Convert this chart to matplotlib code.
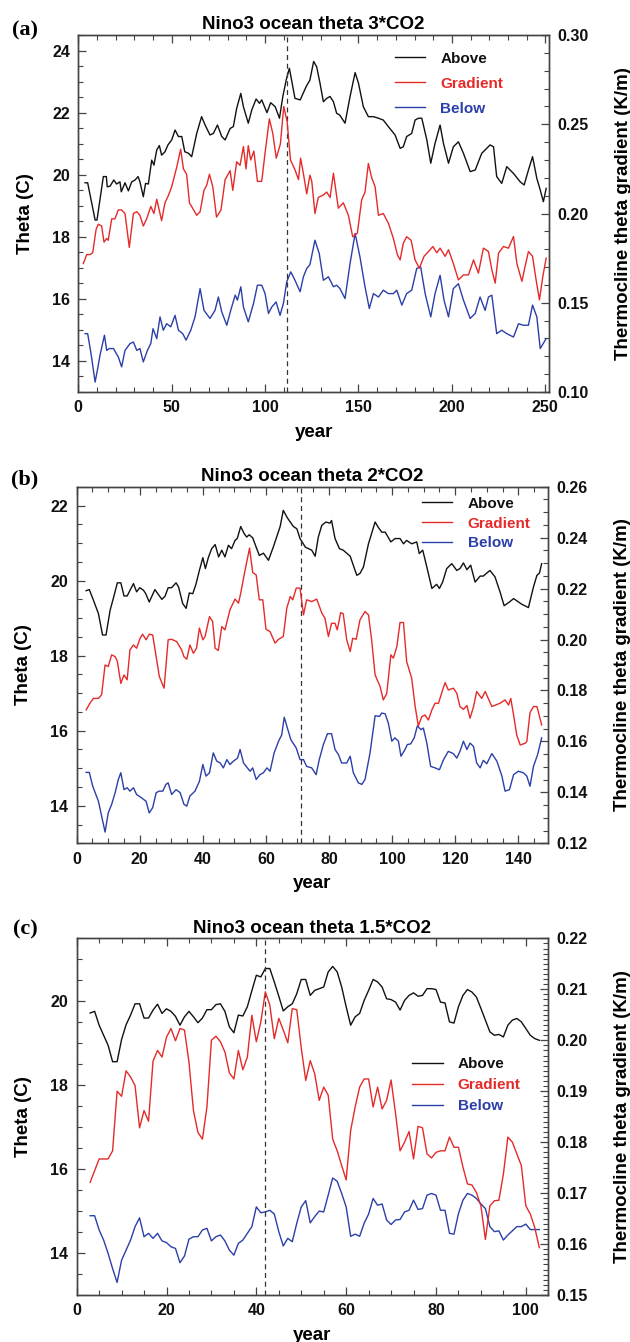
import matplotlib
matplotlib.use("Agg")
import matplotlib.pyplot as plt
from matplotlib.ticker import MultipleLocator

plt.rcParams["font.family"] = ["Liberation Sans", "DejaVu Sans"]
plt.rcParams["font.weight"] = "bold"
plt.rcParams["axes.labelweight"] = "bold"
plt.rcParams["axes.titleweight"] = "bold"

BLACK = "#111111"
RED = "#e52a2a"
BLUE = "#2b3fa8"

# ---------------------------------------------------------------------------
#  (a) 3*CO2
# ---------------------------------------------------------------------------
a_above_yr = [3.6, 5, 9, 10, 13.4, 15, 15.5, 17, 19, 20.5, 22.3, 23, 25, 26.8, 28.6,
              30.4, 32, 33, 34.8, 36, 37.5, 39.3, 40.5, 42, 43.4, 44.6, 46.4, 48, 50,
              51.8, 53.6, 55.4, 57, 59, 60.7, 63.4, 66, 67.9, 70.5, 72.3, 74.5, 76.8,
              78.6, 81.3, 83, 84.8, 87, 88.4, 91, 92.9, 95.2, 97, 98.2, 101, 103, 105.4,
              107.7, 109.5, 111.3, 113, 116, 118.8, 122, 124, 126, 127.6, 129.4, 131.2,
              133, 134.8, 136.6, 138.3, 140, 142.8, 145.5, 148.2, 150, 152.6, 155.3,
              158, 160.7, 163.3, 166, 169.6, 172.3, 174, 175.8, 178.5, 180.3, 182.1,
              183.9, 186.6, 188.7, 191, 193.7, 195.5, 198.2, 200.8, 203.5, 206.2,
              209.8, 212.5, 216, 220.5, 222.3, 224, 226.7, 229.4, 233, 236.6, 238.7,
              241, 243.2, 245.5, 247.3, 249, 250.5]
a_above = [19.74, 19.74, 18.54, 18.54, 19.94, 19.94, 19.61, 19.63, 19.83, 19.70, 19.77,
           19.45, 19.74, 19.48, 19.77, 19.83, 19.94, 19.77, 19.29, 19.72, 19.70, 20.47,
           20.31, 20.80, 20.94, 20.63, 20.74, 20.96, 21.12, 21.44, 21.23, 21.23, 20.74,
           20.69, 20.58, 21.33, 21.87, 21.60, 21.28, 21.33, 21.60, 21.23, 21.12, 21.49,
           21.55, 22.14, 22.62, 22.19, 21.66, 22.09, 22.44, 22.30, 22.41, 22.00, 22.32,
           22.19, 21.82, 22.52, 23.05, 23.43, 22.46, 22.41, 22.84, 23.05, 23.65, 23.48,
           22.95, 22.35, 22.46, 22.52, 22.35, 21.98, 21.92, 21.66, 22.52, 23.29, 22.95,
           22.19, 21.87, 21.87, 21.82, 21.76, 21.55, 21.28, 20.85, 20.90, 21.23, 21.33,
           21.76, 21.82, 21.82, 21.12, 20.37, 21.01, 21.60, 21.01, 20.37, 20.90, 21.06,
           20.69, 20.10, 20.15, 20.69, 20.96, 20.90, 19.94, 19.72, 20.26, 20.04, 19.77,
           19.67, 20.15, 20.58, 19.88, 19.51, 19.13, 19.56]

a_grad_yr = [2.7, 4.5, 6.3, 7.7, 9.5, 10.7, 12.5, 13.75, 15.2, 16, 17.9, 19.6, 21.4,
             23.2, 25, 27.3, 29.5, 31.3, 33, 34.8, 36.6, 38.8, 40.5, 42, 44.6, 46.4,
             48.2, 50, 52.7, 54.8, 56.3, 58, 59.5, 61.2, 63.4, 65.2, 67.3, 68.8, 70.2,
             72, 74, 76.4, 78.6, 81.3, 82.7, 84.8, 86.6, 88.4, 89.8, 91, 92.3, 94,
             95.9, 98.2, 100, 102.3, 104.1, 106, 108.2, 110, 111.8, 113.6, 116, 117.9,
             119, 120.5, 122.3, 124, 125, 126.7, 128.5, 131.2, 133, 134.8, 136.6,
             139.2, 141.9, 144.6, 146.9, 149.4, 151.7, 153.5, 155.3, 157.1, 158.9,
             160.7, 163.3, 166, 168.7, 170.8, 172.3, 174, 175.8, 178.2, 180.3, 182.6,
             185.1, 187.5, 189.8, 191.9, 193.7, 196.4, 198.2, 200.8, 203.5, 206.2,
             208.9, 211.6, 214.2, 216.9, 219.6, 221.4, 223.2, 225, 227.6, 230.3, 233,
             234.8, 237.5, 239.2, 241, 243.2, 245.1, 246.9, 248.7, 250.5]
a_grad = [0.172, 0.177, 0.177, 0.178, 0.191, 0.194, 0.193, 0.184, 0.186, 0.185, 0.197,
          0.197, 0.202, 0.202, 0.200, 0.181, 0.200, 0.201, 0.199, 0.193, 0.197, 0.204,
          0.200, 0.208, 0.196, 0.206, 0.210, 0.215, 0.226, 0.236, 0.225, 0.222, 0.206,
          0.203, 0.199, 0.201, 0.213, 0.216, 0.222, 0.215, 0.198, 0.202, 0.219, 0.224,
          0.213, 0.229, 0.227, 0.2375, 0.225, 0.238, 0.230, 0.235, 0.218, 0.218, 0.234,
          0.253, 0.245, 0.231, 0.239, 0.260, 0.2515, 0.230, 0.2245, 0.219, 0.231,
          0.2225, 0.211, 0.2215, 0.218, 0.200, 0.209, 0.2104, 0.212, 0.209, 0.2226,
          0.203, 0.206, 0.199, 0.187, 0.189, 0.2076, 0.212, 0.228, 0.220, 0.215,
          0.199, 0.200, 0.1946, 0.186, 0.177, 0.174, 0.1834, 0.187, 0.185, 0.174,
          0.1694, 0.176, 0.1787, 0.1815, 0.178, 0.1806, 0.176, 0.1797, 0.172, 0.1628,
          0.1656, 0.1656, 0.174, 0.1666, 0.1806, 0.1787, 0.1685, 0.161, 0.1778,
          0.1815, 0.1806, 0.1871, 0.172, 0.162, 0.1703, 0.1787, 0.176, 0.1628,
          0.1516, 0.1647, 0.175]

a_below_yr = [3.6, 5, 6.8, 9, 10.2, 11.6, 14, 15.2, 16.6, 18.8, 21.4, 23.2, 25, 27.7,
              29.5, 31.3, 33, 34.8, 37, 38.8, 40, 42, 43.75, 45.5, 47.3, 49.5, 51.8,
              53.6, 55.9, 57.7, 60.2, 62.5, 65.2, 67.3, 70.5, 73.2, 75, 76.8, 79.5,
              81.6, 84, 85.2, 87, 88.4, 91, 93.8, 95.9, 98.2, 100, 101.8, 103.6, 105.9,
              108, 109.8, 111.6, 113.75, 116, 118.75, 120.5, 122.3, 124, 126.7, 129,
              131.2, 133.9, 136.6, 138.3, 140.1, 142.8, 145.5, 148.2, 150.8, 153.5,
              155.8, 158, 160.7, 163.3, 166, 168.7, 170.5, 173.2, 175.8, 178.5, 181.2,
              183.3, 185.7, 188.7, 191, 193.7, 195.8, 198.2, 200.8, 203.5, 206.2,
              209.8, 212.5, 215.1, 217.8, 219.6, 221.4, 224, 226.7, 229.4, 233, 235.7,
              238.3, 241, 243.2, 245.5, 247.3, 250.5]
a_below = [14.88, 14.88, 14.24, 13.32, 13.70, 14.18, 14.83, 14.34, 14.40, 14.40, 14.13,
           13.81, 14.34, 14.56, 14.61, 14.34, 14.40, 13.97, 14.34, 14.56, 15.04, 14.72,
           15.42, 14.99, 15.20, 15.10, 15.47, 14.99, 14.88, 14.67, 14.99, 15.42, 16.33,
           15.63, 15.37, 15.63, 16.06, 15.58, 15.15, 15.63, 16.12, 15.96, 16.39, 15.74,
           15.26, 15.85, 16.44, 16.44, 16.17, 15.53, 15.74, 15.90, 15.47, 15.85, 16.55,
           16.87, 16.60, 16.23, 16.71, 16.98, 17.10, 17.89, 17.46, 16.60, 16.71, 16.39,
           16.44, 16.33, 16.01, 17.14, 18.11, 17.35, 16.39, 15.69, 16.17, 16.06, 16.28,
           16.17, 16.17, 16.28, 15.80, 16.17, 16.28, 16.98, 17.03, 16.17, 15.42, 16.17,
           16.76, 15.96, 15.42, 16.33, 16.49, 15.96, 15.37, 15.53, 16.06, 15.63, 16.06,
           16.12, 14.88, 14.99, 14.88, 14.77, 15.20, 15.15, 15.15, 15.80, 15.42, 14.40,
           14.72]

# ---------------------------------------------------------------------------
#  (b) 2*CO2
# ---------------------------------------------------------------------------
b_above_yr = [3, 4, 5.3, 6.9, 8.2, 9.3, 10.6, 11.6, 12.9, 14, 15, 16, 18, 19, 20, 21.2,
              21.9, 23, 24.8, 27, 28, 29, 30.1, 31.5, 32.3, 33.6, 34.7, 35.7, 36.8,
              37.8, 38.9, 40, 40.8, 41.8, 42.8, 43.9, 45, 46, 47, 48.1, 49.1, 50.2,
              50.9, 52, 53.1, 53.9, 54.7, 55.8, 56.9, 57.9, 59.2, 60.8, 62.4, 64.5,
              65.5, 66.8, 68.7, 69.8, 70.8, 72.5, 74.5, 75.6, 76.6, 77.7, 79, 80.3,
              80.8, 81.9, 83.3, 84.5, 86.7, 88.8, 89.8, 90.9, 92.5, 94.6, 95.6, 96.7,
              97.8, 99.6, 100.9, 102.5, 103.6, 104.6, 106.2, 107.8, 108.6, 109.7, 111,
              112.6, 114.1, 115, 116, 117.3, 118.9, 120.5, 121.5, 122.6, 123.7, 124.9,
              126.3, 127.9, 128.9, 131, 132.6, 134.2, 135.5, 137.2, 138.5, 141.1,
              143.2, 144.8, 145.9, 146.7, 147.4]
b_above = [19.73, 19.76, 19.48, 19.12, 18.55, 18.55, 19.21, 19.52, 19.94, 19.94, 19.59,
           19.59, 19.92, 19.70, 19.81, 19.74, 19.65, 19.43, 19.76, 19.50, 19.58, 19.81,
           19.81, 19.94, 19.83, 19.39, 19.26, 19.67, 19.65, 19.90, 20.27, 20.61, 20.32,
           20.63, 20.85, 20.96, 20.63, 20.81, 20.63, 20.94, 20.85, 21.07, 21.12, 21.44,
           21.25, 21.16, 21.22, 21.14, 20.89, 20.67, 20.73, 20.54, 20.91, 21.44, 21.87,
           21.67, 21.44, 21.38, 21.12, 20.89, 20.81, 20.65, 21.16, 21.47, 21.56, 21.53,
           21.60, 21.12, 20.85, 20.81, 20.65, 20.14, 20.19, 20.36, 20.98, 21.56, 21.42,
           21.29, 21.29, 21.03, 21.12, 21.12, 20.98, 21.07, 20.98, 21.03, 20.72, 20.81,
           20.36, 19.79, 19.90, 19.79, 19.96, 20.32, 20.45, 20.27, 20.32, 20.47, 20.29,
           20.41, 19.96, 20.12, 20.12, 20.27, 20.10, 19.70, 19.33, 19.43, 19.52, 19.37,
           19.28, 19.83, 20.14, 20.20, 20.45]

b_grad_yr = [3, 4.2, 5.3, 6.9, 7.9, 9, 10, 11.1, 12.2, 12.9, 14, 15, 16, 16.9, 18, 19,
             20.1, 20.9, 22, 23, 24.1, 25.2, 26.2, 27.7, 29, 30.1, 31.7, 33.3, 34, 34.9,
             35.9, 37, 38, 38.9, 40, 40.7, 42.1, 43.1, 43.9, 44.9, 46, 47, 48.6, 50.2,
             51.3, 52, 53.2, 54.8, 55.8, 56.9, 57.9, 59, 60, 61.3, 62.9, 64, 65.5, 66.6,
             67.7, 68.5, 69.6, 70.8, 71.9, 72.9, 74.5, 76.1, 77.7, 78.7, 79.8, 80.8,
             81.9, 82.6, 83.7, 84.5, 85.6, 86.7, 87.5, 88.6, 89.8, 91.4, 92.5, 93.5,
             94.6, 96.2, 97.2, 98.3, 99.6, 100.4, 101.5, 102.5, 103.6, 104.6, 106.2,
             107.3, 108.3, 109.4, 110.4, 111.5, 112.6, 113.6, 114.7, 116, 116.8, 117.8,
             119.4, 120.5, 121.5, 122.6, 123.7, 124.7, 125.8, 126.8, 128.4, 129.5,
             131.6, 134.2, 135.8, 136.9, 137.6, 138.5, 139.5, 140.6, 142.2, 142.7,
             143.7, 144.8, 145.9, 147.4]
b_grad = [0.1724, 0.1750, 0.1769, 0.1769, 0.1783, 0.1900, 0.1894, 0.1940, 0.1933,
          0.1914, 0.1828, 0.1861, 0.1842, 0.1960, 0.1979, 0.1966, 0.2005, 0.2021,
          0.1999, 0.2021, 0.2018, 0.1933, 0.1855, 0.1809, 0.1999, 0.2001, 0.1992,
          0.1959, 0.1933, 0.1923, 0.1979, 0.1946, 0.1966, 0.2045, 0.1999, 0.2012,
          0.2090, 0.2071, 0.1966, 0.1957, 0.2051, 0.2038, 0.2117, 0.2159, 0.2143,
          0.2182, 0.2261, 0.2359, 0.2263, 0.2254, 0.2156, 0.2156, 0.2041, 0.2031,
          0.1986, 0.2001, 0.2012, 0.2123, 0.2169, 0.2156, 0.2202, 0.2202, 0.2097,
          0.2156, 0.2149, 0.2159, 0.2104, 0.2084, 0.2012, 0.2064, 0.2064, 0.2038,
          0.2106, 0.2101, 0.1999, 0.1953, 0.2005, 0.2001, 0.2077, 0.2110, 0.2097,
          0.1999, 0.1861, 0.1815, 0.1763, 0.1789, 0.1940, 0.1927, 0.1973, 0.2067,
          0.2067, 0.1914, 0.1848, 0.1737, 0.1661, 0.1697, 0.1704, 0.1684, 0.1724,
          0.1750, 0.1750, 0.1802, 0.1831, 0.1802, 0.1809, 0.1789, 0.1737, 0.1726,
          0.1741, 0.1691, 0.1737, 0.1796, 0.1769, 0.1796, 0.1737, 0.1750, 0.1763,
          0.1743, 0.1769, 0.1704, 0.1625, 0.1586, 0.1593, 0.1600, 0.1713, 0.1737,
          0.1737, 0.1665]

b_below_yr = [3, 4, 5.1, 6.9, 9, 10, 11.1, 12.2, 13.2, 14, 15, 16, 16.9, 18, 19, 20.6,
              22, 23, 24.1, 25.2, 26.2, 27.3, 28.3, 29, 30.1, 31.5, 32.8, 34, 34.9,
              35.9, 37.5, 38.9, 40, 41, 42.1, 43.3, 44.4, 45.5, 46.5, 47.6, 48.6, 49.7,
              51, 51.8, 52.9, 54.1, 55, 55.8, 56.9, 58.1, 59.2, 60.3, 61.3, 62.6, 64,
              65, 65.8, 66.8, 67.9, 69.6, 70.8, 71.9, 72.9, 74.5, 75.9, 76.9, 78.2,
              79.5, 80.8, 81.9, 83, 84, 85.6, 86.7, 87.7, 89.3, 90.4, 91.4, 93, 94.6,
              96, 96.7, 97.8, 98.8, 99.9, 100.9, 102, 102.8, 104.1, 104.8, 105.9, 107,
              108, 109.1, 109.9, 111, 112.2, 113.6, 115, 116.3, 117.8, 119.4, 120.5,
              121.5, 122.6, 123.7, 124.7, 125.8, 126.8, 127.9, 128.9, 130, 131.6,
              133.2, 134.8, 135.8, 137.2, 138.5, 140, 141.6, 142.7, 143.7, 144.8,
              146.1, 147.4]
b_below = [14.89, 14.89, 14.52, 14.12, 13.30, 13.81, 14.04, 14.35, 14.70, 14.88, 14.43,
           14.48, 14.39, 14.48, 14.30, 14.21, 14.12, 13.81, 13.95, 14.35, 14.39, 14.39,
           14.57, 14.61, 14.30, 14.43, 14.35, 14.04, 13.99, 14.26, 14.39, 14.65, 15.10,
           14.79, 14.88, 15.41, 15.19, 15.14, 15.01, 15.23, 15.10, 15.19, 15.27, 15.50,
           15.14, 15.01, 14.92, 15.01, 14.70, 14.83, 14.88, 15.01, 14.92, 15.41, 15.72,
           15.89, 16.36, 16.07, 15.76, 15.54, 15.23, 15.23, 15.05, 15.01, 14.83, 15.23,
           15.63, 15.92, 15.92, 15.50, 15.36, 15.14, 15.14, 15.32, 14.88, 14.61, 14.57,
           14.70, 15.41, 16.40, 16.38, 16.47, 16.45, 16.20, 15.72, 15.81, 15.72, 15.32,
           15.50, 15.63, 15.65, 15.81, 16.13, 16.03, 16.07, 15.67, 15.05, 15.01, 14.96,
           15.23, 15.45, 15.39, 15.27, 15.45, 15.72, 15.50, 15.67, 15.58, 15.14, 15.01,
           15.21, 15.12, 15.39, 15.19, 14.79, 14.39, 14.43, 14.83, 14.92, 14.88, 14.79,
           14.52, 15.05, 15.36, 15.81]

# ---------------------------------------------------------------------------
#  (c) 1.5*CO2  (yearly values, years 3..103)
# ---------------------------------------------------------------------------
c_years = list(range(3, 104))
c_above = [19.72, 19.76, 19.43, 19.19, 18.95, 18.56, 18.56, 19.09, 19.44, 19.67, 19.94,
           19.94, 19.60, 19.60, 19.79, 19.93, 19.71, 19.82, 19.76, 19.64, 19.43, 19.63,
           19.76, 19.63, 19.49, 19.60, 19.80, 19.80, 19.92, 19.94, 19.76, 19.39, 19.25,
           19.67, 19.65, 19.87, 20.25, 20.62, 20.58, 20.78, 20.78, 20.46, 20.12, 19.77,
           19.87, 19.94, 20.18, 20.52, 20.52, 20.14, 20.26, 20.30, 20.34, 20.70, 20.83,
           20.70, 20.34, 19.87, 19.43, 19.63, 19.71, 20.02, 20.26, 20.52, 20.46, 20.34,
           20.06, 20.04, 19.98, 19.79, 20.02, 20.14, 20.20, 20.12, 20.14, 20.30, 20.30,
           20.28, 19.98, 19.96, 19.51, 19.48, 19.87, 20.14, 20.28, 20.22, 20.10, 19.83,
           19.55, 19.27, 19.19, 19.21, 19.15, 19.43, 19.55, 19.59, 19.51, 19.35, 19.19,
           19.11, 19.07]
c_grad = [0.1721, 0.1744, 0.1767, 0.1767, 0.1767, 0.1783, 0.1900, 0.1890, 0.1940,
          0.1928, 0.1911, 0.1828, 0.1862, 0.1841, 0.1959, 0.1980, 0.1967, 0.2006,
          0.2023, 0.1999, 0.2023, 0.2020, 0.1957, 0.1862, 0.1819, 0.1806, 0.1869,
          0.2000, 0.2008, 0.1997, 0.1977, 0.1936, 0.1924, 0.1980, 0.1942, 0.1967,
          0.2049, 0.1997, 0.2036, 0.2095, 0.2069, 0.2003, 0.2043, 0.2020, 0.1995,
          0.2062, 0.2060, 0.1985, 0.1921, 0.1960, 0.1934, 0.1882, 0.1908, 0.1892,
          0.1806, 0.1783, 0.1754, 0.1726, 0.1823, 0.1869, 0.1908, 0.1924, 0.1924,
          0.1869, 0.1908, 0.1865, 0.1882, 0.1922, 0.1856, 0.1783, 0.1800, 0.1821,
          0.1767, 0.1831, 0.1828, 0.1777, 0.1769, 0.1780, 0.1783, 0.1783, 0.1810,
          0.1790, 0.1790, 0.1751, 0.1718, 0.1716, 0.1701, 0.1675, 0.1609, 0.1675,
          0.1685, 0.1686, 0.1737, 0.1810, 0.1800, 0.1777, 0.1754, 0.1675, 0.1659,
          0.1632, 0.1593]
c_below = [14.89, 14.89, 14.55, 14.31, 13.99, 13.63, 13.30, 13.83, 14.07, 14.31, 14.63,
           14.84, 14.39, 14.47, 14.35, 14.47, 14.29, 14.25, 14.15, 14.11, 13.77, 13.93,
           14.33, 14.39, 14.39, 14.55, 14.59, 14.29, 14.39, 14.43, 14.29, 14.07, 13.95,
           14.23, 14.31, 14.47, 14.63, 15.10, 14.96, 14.98, 15.02, 14.93, 14.51, 14.17,
           14.35, 14.27, 14.71, 15.10, 15.25, 14.72, 14.87, 15.00, 14.98, 15.38, 15.79,
           15.71, 15.42, 15.10, 14.40, 14.45, 14.40, 14.71, 14.93, 15.30, 15.14, 15.17,
           14.79, 14.68, 14.79, 14.80, 14.98, 15.02, 15.26, 15.04, 15.06, 15.38, 15.42,
           15.38, 15.02, 15.02, 14.47, 14.45, 14.94, 15.26, 15.42, 15.38, 15.30, 15.17,
           15.06, 14.63, 14.51, 14.53, 14.31, 14.43, 14.53, 14.63, 14.63, 14.69, 14.56,
           14.56, 14.56]

panels = [
    dict(tag="(a)", title="Nino3 ocean theta 3*CO2", rect=[0.1243, 0.7079, 0.7471, 0.2660],
         above=(a_above_yr, a_above), grad=(a_grad_yr, a_grad), below=(a_below_yr, a_below),
         xlim=(0, 252), xmaj=50, xmin=10, ylim=(13, 24.5), y2lim=(0.10, 0.30),
         y2maj=0.05, y2min=0.01, vline=112,
         leg_xy=(0.672, 0.953), leg_sp=0.72, tag_y=30),
    dict(tag="(b)", title="Nino3 ocean theta 2*CO2", rect=[0.1217, 0.3716, 0.7486, 0.2657],
         above=(b_above_yr, b_above), grad=(b_grad_yr, b_grad), below=(b_below_yr, b_below),
         xlim=(0, 149.5), xmaj=20, xmin=5, ylim=(13, 22.5), y2lim=(0.12, 0.26),
         y2maj=0.02, y2min=0.005, vline=71,
         leg_xy=(0.732, 0.972), leg_sp=0.38, tag_y=479),
    dict(tag="(c)", title="Nino3 ocean theta 1.5*CO2", rect=[0.1217, 0.0350, 0.7486, 0.2658],
         above=(c_years, c_above), grad=(c_years, c_grad), below=(c_years, c_below),
         xlim=(0, 105), xmaj=20, xmin=5, ylim=(13, 21.5), y2lim=(0.15, 0.22),
         y2maj=0.01, y2min=0.001, vline=42,
         leg_xy=(0.711, 0.666), leg_sp=0.45, tag_y=929),
]

fig = plt.figure(figsize=(6.3, 13.42), dpi=100)

for p in panels:
    ax = fig.add_axes(p["rect"])
    ax2 = ax.twinx()

    l1, = ax.plot(*p["above"], color=BLACK, lw=1.0, label="Above")
    l3, = ax.plot(*p["below"], color=BLUE, lw=1.0, label="Below")
    l2, = ax2.plot(*p["grad"], color=RED, lw=1.0, label="Gradient")
    ax.axvline(p["vline"], color="#333333", lw=0.9, ls=(0, (4, 3)))

    ax.set_xlim(*p["xlim"])
    ax.set_ylim(*p["ylim"])
    ax2.set_ylim(*p["y2lim"])

    ax.xaxis.set_major_locator(MultipleLocator(p["xmaj"]))
    ax.xaxis.set_minor_locator(MultipleLocator(p["xmin"]))
    ax.yaxis.set_major_locator(MultipleLocator(2))
    ax.yaxis.set_minor_locator(MultipleLocator(0.5))
    ax2.yaxis.set_major_locator(MultipleLocator(p["y2maj"]))
    ax2.yaxis.set_minor_locator(MultipleLocator(p["y2min"]))
    ax2.yaxis.set_major_formatter("{x:.2f}")

    ax.tick_params(which="both", direction="in", top=True, right=False,
                   labelsize=11.5, pad=6, color="#444444", labelcolor="#111111")
    ax.tick_params(which="major", length=6, width=0.9)
    ax.tick_params(which="minor", length=3.5, width=0.8)
    ax2.tick_params(which="both", direction="in", left=False, right=True,
                    labelsize=11.5, pad=6, color="#444444", labelcolor="#111111")
    ax2.tick_params(which="major", length=6, width=0.9)
    ax2.tick_params(which="minor", length=3.5, width=0.8)
    for a in (ax, ax2):
        for s in a.spines.values():
            s.set_color("#444444")
            s.set_linewidth(1.0)
    for lab in ax.get_xticklabels() + ax.get_yticklabels() + ax2.get_yticklabels():
        lab.set_fontweight("bold")

    ax.set_title(p["title"], fontsize=13.5, pad=4)
    ax.set_xlabel("year", fontsize=13.5, labelpad=6)
    ax.set_ylabel("Theta (C)", fontsize=13.5, labelpad=13)
    ax2.set_ylabel("Thermocline theta gradient (K/m)", fontsize=13.5, labelpad=19)

    ax2.legend([l1, l2, l3], ["Above", "Gradient", "Below"], loc="upper left",
               bbox_to_anchor=p["leg_xy"], frameon=False,
               prop={"size": 11, "weight": "bold"},
               labelcolor="linecolor", handlelength=2.0, handletextpad=1.0,
               labelspacing=p["leg_sp"], borderpad=0, borderaxespad=0)

    fig.text(25 / 630, 1 - p["tag_y"] / 1342, p["tag"], ha="center", va="center",
             fontsize=16, fontweight="bold", family=["Liberation Serif", "DejaVu Serif"])

fig.savefig("out.png", dpi=100)
